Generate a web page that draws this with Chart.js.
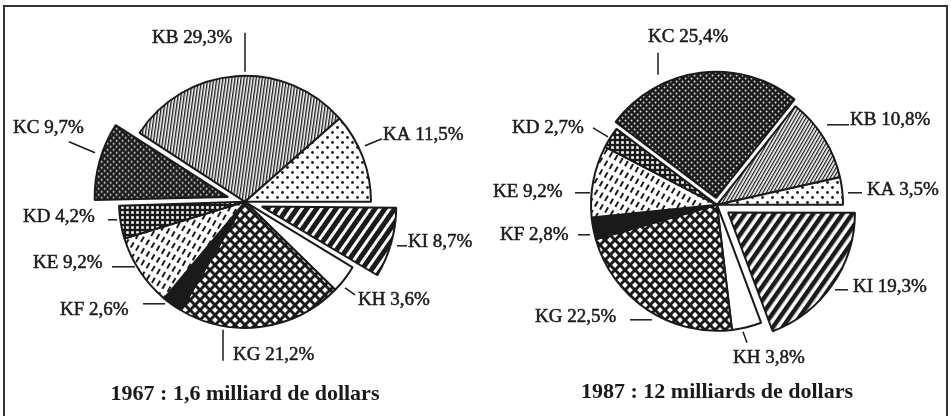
<!DOCTYPE html>
<html>
<head>
<meta charset="utf-8">
<script src="https://cdn.jsdelivr.net/npm/chart.js@4.4.0/dist/chart.umd.min.js"></script>
<style>
  html, body { margin: 0; padding: 0; background: #fff; }
  #page { position: relative; width: 951px; height: 416px; overflow: hidden; }
  canvas { position: absolute; top: 0; }
  #c1967 { left: 0; }
  #c1987 { left: 475px; }
  #cadre { position: absolute; left: 3px; top: 5px; width: 941px; height: 420px;
           border: 2px solid #333; border-bottom: none; pointer-events: none; }
</style>
</head>
<body>
<div id="page">
  <canvas id="c1967" width="475" height="416"></canvas>
  <canvas id="c1987" width="476" height="416"></canvas>
  <div id="cadre"></div>
</div>
<script>
// données (parts en %)
const categories = ["KA", "KB", "KC", "KD", "KE", "KF", "KG", "KH", "KI"];
const parts1967 = [11.5, 29.3, 9.7, 4.2, 9.2, 2.6, 21.2, 3.6, 8.7];
const parts1987 = [3.5, 10.8, 25.4, 2.7, 9.2, 2.8, 22.5, 3.8, 19.3];
const title1967 = "1967 : 1,6 milliard de dollars";
const title1987 = "1987 : 12 milliards de dollars";

// parts détachées (offset Chart.js)
const explode1967 = [0, 0, 70, 0, 0, 0, 0, 0, 70];
const explode1987 = [0, 0, 28, 0, 0, 0, 0, 0, 54];

// placement des étiquettes, relatif au centre : [texteX, texteY, x1, y1, x2, y2]
const spots1967 = [
  [138, -62, 120, -56, 137, -63],
  [-93, -159, 0, -169, 0, -130],
  [-232, -69, -176, -60, -150, -49],
  [-222, 20, -137, 18, -128, 18],
  [-212, 66, -133, 65, -110, 65],
  [-185, 113, -102, 102, -80, 102],
  [-12, 158, -22, 128, -22, 159],
  [113, 103, 100, 86, 110, 93],
  [163, 45, 152, 44, 162, 44]
];
const spots1987 = [
  [150, -10, 131, -12, 145, -12],
  [133, -80, 110, -80, 132, -80],
  [-69, -163, -59, -152, -59, -130],
  [-205, -72, -124, -77, -109, -68],
  [-224, -8, -142, -12, -127, -12],
  [-217, 35, -139, 30, -127, 30],
  [-182, 117, -87, 115, -65, 115],
  [16, 158, 26, 127, 30, 138],
  [136, 87, 118, 85, 131, 85]
];

const INK = "#1a1a1a";

function tile(w, h, paint, angle) {
  const c = document.createElement("canvas");
  c.width = w;
  c.height = h;
  const g = c.getContext("2d");
  paint(g, w, h);
  const p = g.createPattern(c, "repeat");
  if (angle) p.setTransform(new DOMMatrix().rotate(angle));
  return p;
}

function stripes(period, black, angle) {
  return tile(8, period, (g, w, h) => {
    g.fillStyle = "#fff";
    g.fillRect(0, 0, w, h);
    g.fillStyle = INK;
    g.fillRect(0, 0, w, black);
  }, angle);
}

function dots(step, bg, fg, r) {
  return tile(step, step, (g, w, h) => {
    g.fillStyle = bg;
    g.fillRect(0, 0, w, h);
    g.fillStyle = fg;
    g.beginPath(); g.arc(w / 4, h / 4, r, 0, Math.PI * 2); g.fill();
    g.beginPath(); g.arc(3 * w / 4, 3 * h / 4, r, 0, Math.PI * 2); g.fill();
  });
}

const grid = tile(5, 5, (g) => {
  g.fillStyle = INK; g.fillRect(0, 0, 5, 5);
  g.fillStyle = "#fff"; g.fillRect(1.2, 1.2, 2.6, 2.6);
});

const dashes = tile(10, 6, (g) => {
  g.fillStyle = "#fff"; g.fillRect(0, 0, 10, 6);
  g.fillStyle = INK; g.fillRect(1, 2, 6, 2);
}, -60);

const lattice = tile(10, 10, (g) => {
  g.fillStyle = "#fff"; g.fillRect(0, 0, 10, 10);
  g.strokeStyle = INK; g.lineWidth = 3;
  for (const k of [-10, 0, 10]) {
    g.beginPath(); g.moveTo(k - 1, -1); g.lineTo(k + 11, 11); g.stroke();
    g.beginPath(); g.moveTo(k + 11, -1); g.lineTo(k - 1, 11); g.stroke();
  }
});

const fillsLeft = [
  dots(10, "#fff", INK, 1.4),
  stripes(3, 1.4, -82),
  dots(6, INK, "#fff", 0.9),
  grid,
  dashes,
  INK,
  lattice,
  "#fff",
  stripes(8, 5, -55)
];
const fillsRight = [
  dots(10, "#fff", INK, 1.4),
  stripes(3, 1.3, -60),
  dots(6, INK, "#fff", 0.9),
  grid,
  dashes,
  INK,
  lattice,
  "#fff",
  stripes(8, 4.5, -55)
];

function pct(v) {
  return v.toFixed(1).replace(".", ",") + "%";
}

function sliceLabels(values, spots) {
  return {
    id: "sliceLabels",
    afterDatasetsDraw(chart) {
      const ctx = chart.ctx;
      const arc = chart.getDatasetMeta(0).data[0];
      const cx = arc.x, cy = arc.y;
      ctx.save();
      ctx.fillStyle = INK;
      ctx.strokeStyle = INK;
      ctx.font = '19px "Liberation Serif"';
      ctx.textBaseline = "alphabetic";
      categories.forEach((cat, i) => {
        const s = spots[i];
        const txt = cat + " " + pct(values[i]);
        ctx.lineWidth = 0.5;
        ctx.fillText(txt, cx + s[0], cy + s[1]);
        ctx.strokeText(txt, cx + s[0], cy + s[1]);
        ctx.lineWidth = 1.5;
        ctx.beginPath();
        ctx.moveTo(cx + s[2], cy + s[3]);
        ctx.lineTo(cx + s[4], cy + s[5]);
        ctx.stroke();
      });
      ctx.restore();
    }
  };
}

function drawPie(id, values, explode, fills, title, pad, titlePad, spots) {
  return new Chart(document.getElementById(id), {
    type: "pie",
    data: {
      labels: categories.slice().reverse(),
      datasets: [{
        data: values.slice().reverse(),
        backgroundColor: fills.slice().reverse(),
        borderColor: INK,
        borderWidth: 2,
        offset: explode.slice().reverse()
      }]
    },
    options: {
      responsive: false,
      animation: false,
      rotation: 90,
      radius: 126,
      layout: { padding: pad },
      plugins: {
        legend: { display: false },
        tooltip: { enabled: false },
        title: {
          display: true,
          position: "bottom",
          text: title,
          color: INK,
          font: { family: '"Liberation Serif"', size: 22, weight: "bold", lineHeight: 1.2 },
          padding: titlePad
        }
      }
    },
    plugins: [sliceLabels(values, spots)]
  });
}

drawPie("c1967", parts1967, explode1967, fillsLeft, title1967,
  { left: 15, right: 0, top: 24, bottom: 0 }, { top: 2, bottom: 8 }, spots1967);
drawPie("c1987", parts1987, explode1987, fillsRight, title1987,
  { left: 8, right: 0, top: 30, bottom: 0 }, { top: 0, bottom: 10 }, spots1987);
</script>
</body>
</html>
